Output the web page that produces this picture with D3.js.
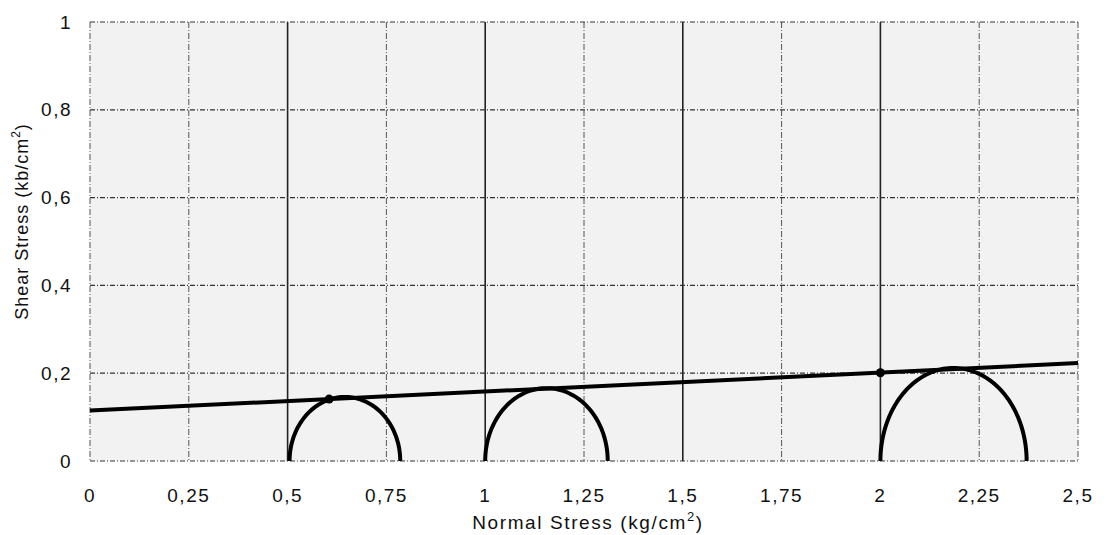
<!DOCTYPE html>
<html>
<head>
<meta charset="utf-8">
<script src="https://cdn.jsdelivr.net/npm/d3@7"></script>
<style>
  body { margin: 0; background: #fff; }
  text { font-family: "Liberation Sans", Arial, sans-serif; fill: #111; }
</style>
</head>
<body>
<div id="chart"></div>
<script>
// Mohr circles: minor / major principal stress and peak of each drawn arc
var sigma3 = [0.505, 1.0, 2.0];
var sigma1 = [0.785, 1.31, 2.37];
var tauTop = [0.146, 0.166, 0.212];

// Failure envelope (end points) and the two marked points on it
var envelopeX = [0, 2.5];
var envelopeY = [0.115, 0.223];
var markX = [0.605, 2.0];
var markY = [0.141, 0.201];

// Tick labels
var xTicks = [0, 0.25, 0.5, 0.75, 1, 1.25, 1.5, 1.75, 2, 2.25, 2.5];
var yTicks = [0, 0.2, 0.4, 0.6, 0.8, 1];

// Set svg dimensions
const width = 1106;
const height = 535;
var margin = {top: 22, right: 28, bottom: 74, left: 90};
var plotWidth = width - margin.left - margin.right;
var plotHeight = height - margin.top - margin.bottom;

var svg = d3.select("#chart")
            .append("svg")
                .attr("width", width)
                .attr("height", height);

var g = svg.append("g")
            .attr("transform", "translate(" + margin.left + "," + margin.top + ")");

var scaleX = d3.scaleLinear().domain([0, 2.5]).range([0, plotWidth]);
var scaleY = d3.scaleLinear().domain([0, 1]).range([plotHeight, 0]);

function isMajor(d) { return (d * 2) % 1 === 0 && d > 0 && d < 2.5; }
function fmt(d) { return String(d).replace(".", ","); }

// plot background (scanned paper tone)
g.append("rect")
    .attr("width", plotWidth)
    .attr("height", plotHeight)
    .attr("fill", "#f2f2f2");

// vertical grid
g.selectAll("line.vgrid")
    .data(xTicks)
    .enter()
    .append("line")
        .attr("class", "vgrid")
        .attr("x1", function(d) { return scaleX(d); })
        .attr("x2", function(d) { return scaleX(d); })
        .attr("y1", 0)
        .attr("y2", plotHeight)
        .attr("stroke", function(d) { return isMajor(d) ? "#222" : "#555"; })
        .attr("stroke-width", function(d) { return isMajor(d) ? 1.6 : 1; })
        .attr("stroke-dasharray", function(d) { return isMajor(d) ? null : "6,2,1,2"; });

// horizontal grid
g.selectAll("line.hgrid")
    .data(yTicks)
    .enter()
    .append("line")
        .attr("class", "hgrid")
        .attr("x1", 0)
        .attr("x2", plotWidth)
        .attr("y1", function(d) { return scaleY(d); })
        .attr("y2", function(d) { return scaleY(d); })
        .attr("stroke", "#333")
        .attr("stroke-width", 1.2)
        .attr("stroke-dasharray", "5,2,1,2");

// y tick labels
g.selectAll("text.ylab")
    .data(yTicks)
    .enter()
    .append("text")
        .attr("class", "ylab")
        .attr("x", -18)
        .attr("y", function(d) { return scaleY(d); })
        .attr("dy", "0.35em")
        .attr("text-anchor", "end")
        .style("font-size", "19px")
        .style("letter-spacing", "1.5px")
        .text(fmt);

// x tick labels
g.selectAll("text.xlab")
    .data(xTicks)
    .enter()
    .append("text")
        .attr("class", "xlab")
        .attr("x", function(d) { return scaleX(d); })
        .attr("y", plotHeight + 34)
        .attr("dy", "0.35em")
        .attr("text-anchor", "middle")
        .style("font-size", "19px")
        .style("letter-spacing", "1.5px")
        .text(fmt);

// Mohr circles (upper halves)
var angles = d3.range(0, 181, 2).map(function(a) { return a * Math.PI / 180; });
var arc = d3.line()
    .x(function(p) { return scaleX(p[0]); })
    .y(function(p) { return scaleY(p[1]); });

sigma3.forEach(function(s3, i) {
    var c = (s3 + sigma1[i]) / 2;
    var r = (sigma1[i] - s3) / 2;
    var pts = angles.map(function(t) { return [c - r * Math.cos(t), tauTop[i] * Math.sin(t)]; });
    g.append("path")
        .attr("d", arc(pts))
        .attr("fill", "none")
        .attr("stroke", "#000")
        .attr("stroke-width", 4);
});

// failure envelope
g.append("path")
    .attr("d", arc(envelopeX.map(function(x, i) { return [x, envelopeY[i]]; })))
    .attr("fill", "none")
    .attr("stroke", "#000")
    .attr("stroke-width", 4);

g.selectAll("circle.mark")
    .data(markX)
    .enter()
    .append("circle")
        .attr("class", "mark")
        .attr("cx", function(d) { return scaleX(d); })
        .attr("cy", function(d, i) { return scaleY(markY[i]); })
        .attr("r", 4.5)
        .attr("fill", "#000");

// axis titles
var xt = g.append("text")
    .attr("x", plotWidth / 2 + 4)
    .attr("y", plotHeight + 68)
    .attr("text-anchor", "middle")
    .style("font-size", "19px")
    .style("letter-spacing", "1.6px");
xt.append("tspan").text("Normal Stress (kg/cm");
xt.append("tspan").attr("dy", -8).style("font-size", "13px").text("2");
xt.append("tspan").attr("dy", 8).text(")");

var yt = g.append("text")
    .attr("transform", "translate(" + (-62) + "," + (plotHeight / 2 - 20) + ") rotate(-90)")
    .attr("text-anchor", "middle")
    .style("font-size", "18px")
    .style("letter-spacing", "1px");
yt.append("tspan").text("Shear Stress (kb/cm");
yt.append("tspan").attr("dy", -8).style("font-size", "12px").text("2");
yt.append("tspan").attr("dy", 8).text(")");
</script>
</body>
</html>
